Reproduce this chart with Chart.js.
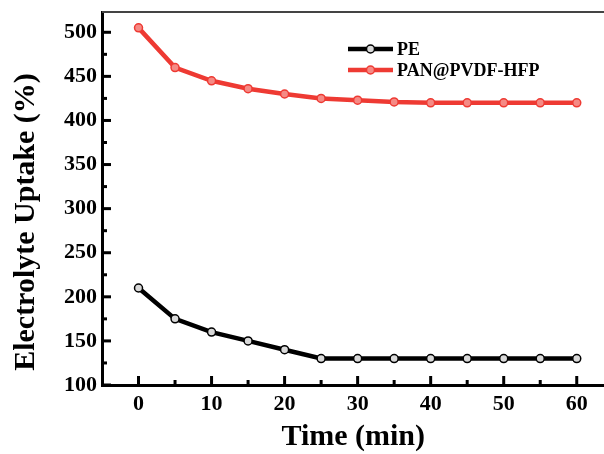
<!DOCTYPE html>
<html>
<head>
<meta charset="utf-8">
<script src="https://cdn.jsdelivr.net/npm/chart.js@4.4.1/dist/chart.umd.min.js"></script>
<style>
  html, body { margin: 0; padding: 0; background: #fff; overflow: hidden; }
  #wrap { width: 604px; height: 454px; overflow: hidden; }
</style>
</head>
<body>
<div id="wrap"><canvas id="chart" width="610" height="454"></canvas></div>
<script>
// data
let times = [0, 5, 10, 15, 20, 25, 30, 35, 40, 45, 50, 55, 60];
let pe = [210, 175, 160, 150, 140, 130, 130, 130, 130, 130, 130, 130, 130];
let pan = [505, 460, 445, 436, 430, 425, 423, 421, 420, 420, 420, 420, 420];
let xTicks = [0, 10, 20, 30, 40, 50, 60];
let xMinor = [5, 15, 25, 35, 45, 55];
let yTicks = [100, 150, 200, 250, 300, 350, 400, 450, 500];
let yMinor = [125, 175, 225, 275, 325, 375, 425, 475];

const RED = "#ee3a33";
const FONT = "'Liberation Serif', 'Times New Roman', serif";

// inward ticks, top frame line, y title and legend
const extras = {
  id: "extras",
  afterDraw(chart) {
    const c = chart.ctx;
    const a = chart.chartArea;
    const xs = chart.scales.x;
    const ys = chart.scales.y;
    c.save();
    c.strokeStyle = "#000";
    c.lineWidth = 3;
    c.lineCap = "butt";
    xTicks.concat(xMinor).forEach((v) => {
      let len = xTicks.includes(v) ? 9 : 5;
      let px = xs.getPixelForValue(v);
      c.beginPath();
      c.moveTo(px, a.bottom);
      c.lineTo(px, a.bottom - len);
      c.stroke();
    });
    yTicks.concat(yMinor).forEach((v) => {
      let len = yTicks.includes(v) ? 9 : 5;
      let py = ys.getPixelForValue(v);
      c.beginPath();
      c.moveTo(a.left, py);
      c.lineTo(a.left + len, py);
      c.stroke();
    });
    // top frame
    c.strokeStyle = "#444";
    c.lineWidth = 2;
    c.beginPath();
    c.moveTo(a.left, a.top);
    c.lineTo(a.right, a.top);
    c.stroke();

    // y axis title
    c.fillStyle = "#000";
    c.font = "bold 30px " + FONT;
    c.textAlign = "center";
    c.textBaseline = "alphabetic";
    c.translate(34, 222);
    c.rotate(-Math.PI / 2);
    c.fillText("Electrolyte Uptake (%)", 0, 0);
    c.restore();

    // legend
    c.save();
    chart.data.datasets.forEach((ds, i) => {
      let y = 49 + i * 21;
      c.strokeStyle = ds.borderColor;
      c.lineWidth = 4.5;
      c.beginPath();
      c.moveTo(348, y);
      c.lineTo(393, y);
      c.stroke();
      c.beginPath();
      c.arc(370.5, y, 4, 0, Math.PI * 2);
      c.fillStyle = ds.pointBackgroundColor;
      c.fill();
      c.lineWidth = 1.5;
      c.strokeStyle = ds.pointBorderColor;
      c.stroke();
      c.fillStyle = "#000";
      c.font = "bold 18px " + FONT;
      c.textAlign = "left";
      c.textBaseline = "middle";
      c.fillText(ds.label, 397, y + 1);
    });
    c.restore();
  },
};

const ctx = document.getElementById("chart");
new Chart(ctx, {
  type: "line",
  data: {
    labels: times,
    datasets: [
      {
        label: "PE",
        data: times.map((t, i) => ({ x: t, y: pe[i] })),
        borderColor: "#000",
        borderWidth: 4.5,
        pointRadius: 4,
        pointBorderWidth: 1.5,
        pointBackgroundColor: "#d9d9d9",
        pointBorderColor: "#000",
        tension: 0,
      },
      {
        label: "PAN@PVDF-HFP",
        data: times.map((t, i) => ({ x: t, y: pan[i] })),
        borderColor: RED,
        borderWidth: 4.5,
        pointRadius: 4,
        pointBorderWidth: 1.5,
        pointBackgroundColor: "#f58a85",
        pointBorderColor: RED,
        tension: 0,
      },
    ],
  },
  options: {
    responsive: false,
    animation: false,
    layout: { padding: { top: 12, right: 0, left: 0, bottom: 0 } },
    plugins: {
      legend: { display: false },
      tooltip: { enabled: false },
    },
    scales: {
      x: {
        type: "linear",
        min: -5,
        max: 63.8,
        afterBuildTicks: (s) => {
          s.ticks = xTicks.map((v) => ({ value: v }));
        },
        afterFit: (s) => {
          s.height = 69;
          s.paddingLeft = 0;
          s.paddingRight = 0;
        },
        grid: { display: false, drawTicks: false },
        border: { display: true, color: "#000", width: 3 },
        ticks: {
          color: "#000",
          padding: 6,
          maxRotation: 0,
          font: { family: FONT, size: 22, weight: "bold" },
        },
        title: {
          display: true,
          text: "Time (min)",
          color: "#000",
          font: { family: FONT, size: 30, weight: "bold", lineHeight: 1 },
          padding: { top: 0, bottom: 2 },
        },
      },
      y: {
        min: 100,
        max: 523,
        afterBuildTicks: (s) => {
          s.ticks = yTicks.map((v) => ({ value: v }));
        },
        afterFit: (s) => {
          s.width = 102;
          s.paddingTop = 0;
          s.paddingBottom = 0;
        },
        grid: { display: false, drawTicks: false },
        border: { display: true, color: "#000", width: 3 },
        ticks: {
          color: "#000",
          padding: 5,
          font: { family: FONT, size: 22, weight: "bold" },
        },
      },
    },
  },
  plugins: [extras],
});
</script>
</body>
</html>
